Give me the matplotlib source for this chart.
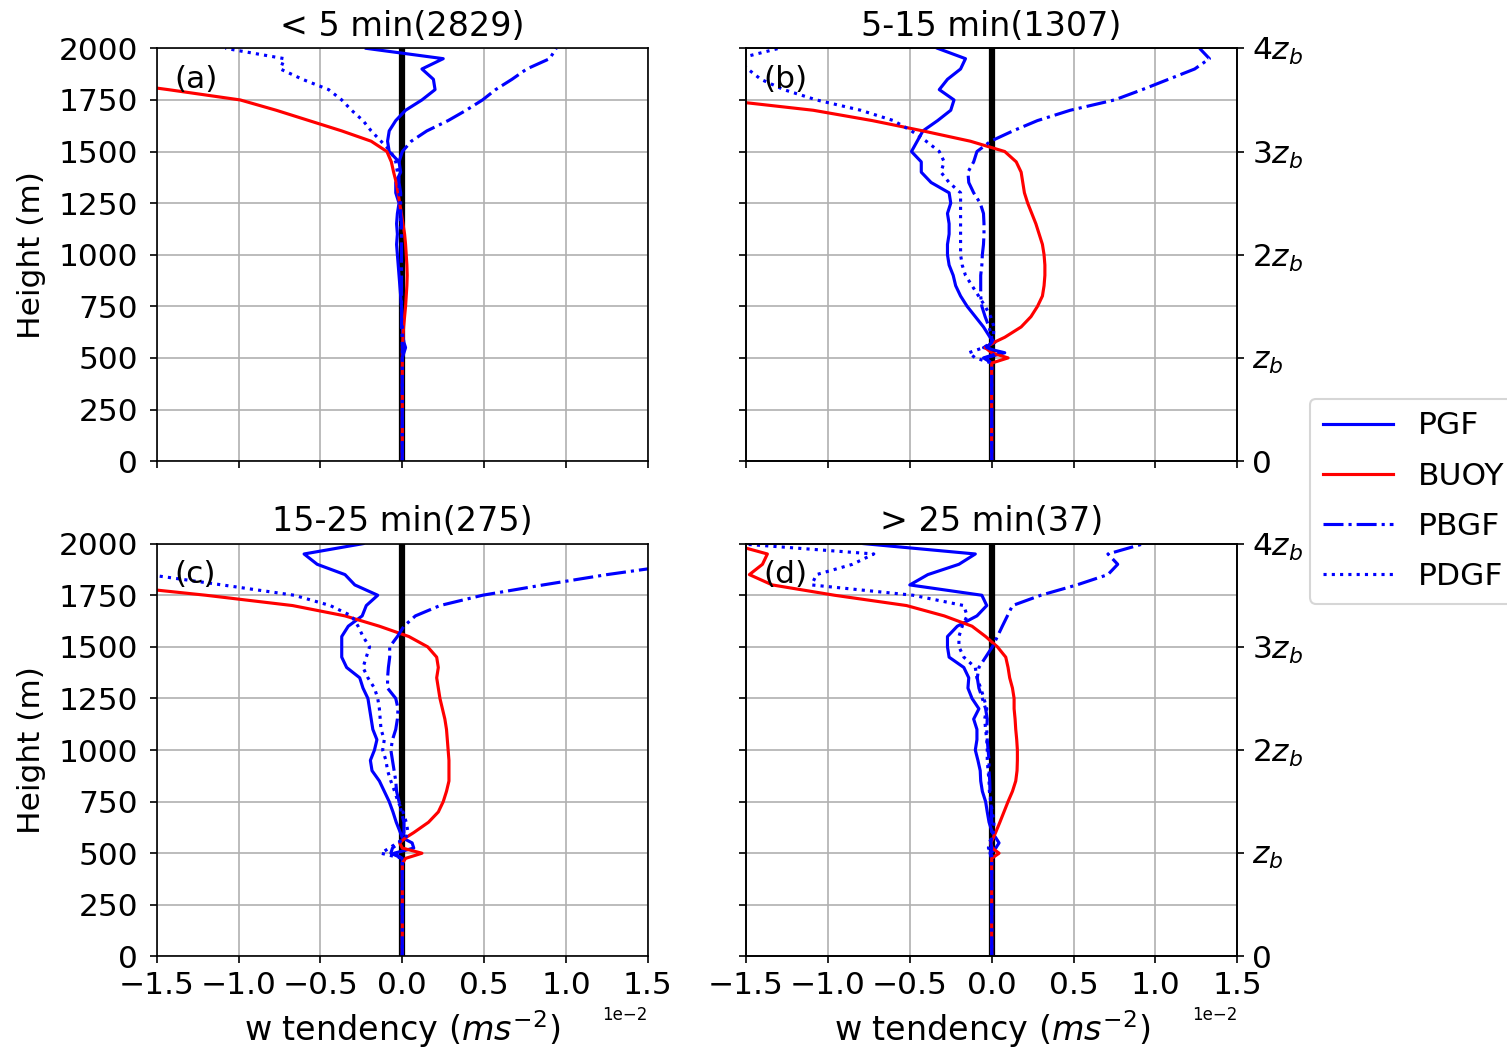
import numpy as np
import matplotlib
matplotlib.use("Agg")
import matplotlib.pyplot as plt

plt.rcParams['font.size'] = 15

# heights (m), values in units of 1e-2 m s^-2
height = [0, 450, 475, 500, 525, 550, 575, 600, 650, 700, 750, 800, 850, 900,
          950, 1000, 1050, 1100, 1150, 1200, 1250, 1300, 1350, 1400, 1450, 1500,
          1550, 1600, 1650, 1700, 1750, 1800, 1850, 1900, 1950, 2000]

titles = ["< 5 min(2829)", "5-15 min(1307)", "15-25 min(275)", "> 25 min(37)"]
tags = ["(a)", "(b)", "(c)", "(d)"]
names = ["PGF", "BUOY", "PBGF", "PDGF"]

pgf_a = [0, 0, 0, 0, 0.01, 0.02, 0.01, 0.005, 0, 0, -0.005, -0.01, -0.015, -0.02,
         -0.025, -0.03, -0.035, -0.03, -0.035, -0.03, -0.02, -0.04, -0.04, -0.01,
         -0.02, -0.08, -0.09, -0.08, -0.04, 0.02, 0.12, 0.2, 0.19, 0.12, 0.25, -0.22]
buoy_a = [0, 0, 0, 0, 0, 0, 0.002, 0.004, 0.008, 0.014, 0.02, 0.024, 0.028, 0.03,
          0.028, 0.024, 0.02, 0.014, 0.004, -0.006, -0.016, -0.026, -0.037, -0.053,
          -0.067, -0.094, -0.19, -0.37, -0.57, -0.77, -0.99, -1.43, -1.9, -2.4, -2.9, -3.4]
pbgf_a = [0, 0, 0, 0, 0.005, 0, 0, 0, -0.005, -0.005, -0.005, -0.005, -0.005, -0.005,
          -0.005, -0.005, -0.005, -0.005, -0.005, -0.01, -0.01, -0.01, -0.02, -0.02,
          -0.02, 0.0, 0.055, 0.15, 0.28, 0.39, 0.49, 0.57, 0.67, 0.76, 0.9, 0.94]
pdgf_a = [0, 0, 0, 0, 0, 0, 0, 0, 0, -0.005, -0.005, -0.005, -0.005, -0.005, -0.005,
          -0.005, -0.005, -0.005, -0.01, -0.01, -0.015, -0.02, -0.02, -0.03, -0.04,
          -0.07, -0.13, -0.19, -0.24, -0.31, -0.37, -0.45, -0.61, -0.745, -0.72, -1.08]

pgf_b = [0, 0, 0, -0.04, 0.08, -0.05, 0.02, -0.01, -0.05, -0.10, -0.15, -0.19, -0.22,
         -0.235, -0.26, -0.27, -0.27, -0.26, -0.26, -0.27, -0.25, -0.26, -0.37, -0.43,
         -0.43, -0.49, -0.455, -0.42, -0.33, -0.25, -0.23, -0.32, -0.27, -0.19, -0.16, -0.33]
buoy_b = [0, 0, 0, 0.1, 0.0, -0.04, 0.014, 0.08, 0.18, 0.24, 0.28, 0.31, 0.32, 0.325,
          0.325, 0.32, 0.31, 0.29, 0.27, 0.245, 0.22, 0.2, 0.19, 0.18, 0.15, 0.08,
          -0.13, -0.42, -0.73, -1.09, -1.65, -2.1, -2.6, -3.2, -4.0, -5.0]
pbgf_b = [0, 0, 0, -0.05, 0.05, -0.03, 0.0, 0.0, -0.016, -0.04, -0.06, -0.067, -0.067,
          -0.067, -0.06, -0.057, -0.05, -0.047, -0.047, -0.05, -0.07, -0.11, -0.14,
          -0.145, -0.11, -0.09, -0.006, 0.13, 0.28, 0.48, 0.75, 0.92, 1.08, 1.24, 1.33, 1.27]
pdgf_b = [0, 0, 0, -0.1, -0.14, -0.05, 0.0, 0.01, 0.014, -0.006, -0.04, -0.08, -0.12,
          -0.16, -0.18, -0.19, -0.19, -0.19, -0.19, -0.19, -0.19, -0.19, -0.26, -0.31,
          -0.29, -0.32, -0.40, -0.49, -0.60, -0.80, -1.07, -1.27, -1.41, -1.49, -1.55, -1.3]

pgf_c = [0, 0, 0, -0.05, 0.07, 0.06, 0.0, -0.012, -0.037, -0.057, -0.08, -0.11, -0.14,
         -0.185, -0.195, -0.17, -0.155, -0.18, -0.19, -0.2, -0.21, -0.24, -0.26, -0.34,
         -0.37, -0.37, -0.37, -0.33, -0.245, -0.22, -0.15, -0.29, -0.35, -0.52, -0.6, -0.24]
buoy_c = [0, 0, 0.02, 0.12, 0.0, -0.016, 0.02, 0.07, 0.16, 0.22, 0.25, 0.27, 0.285,
          0.285, 0.285, 0.28, 0.275, 0.27, 0.26, 0.245, 0.23, 0.22, 0.21, 0.22, 0.21,
          0.155, 0.04, -0.14, -0.35, -0.67, -1.2, -1.8, -2.3, -2.8, -3.4, -4.0]
pbgf_c = [0, 0, 0, -0.07, -0.06, -0.02, 0.0, 0.01, 0.01, -0.006, -0.02, -0.035, -0.04,
          -0.05, -0.06, -0.07, -0.06, -0.04, -0.03, -0.026, -0.04, -0.09, -0.09, -0.085,
          -0.077, -0.077, -0.03, 0.01, 0.08, 0.23, 0.49, 0.86, 1.25, 1.7, 2.0, 2.3]
pdgf_c = [0, 0, 0, -0.13, -0.08, -0.03, 0.02, 0.035, 0.024, 0.004, -0.026, -0.047, -0.07,
          -0.09, -0.1, -0.12, -0.11, -0.13, -0.135, -0.14, -0.15, -0.17, -0.21, -0.24,
          -0.22, -0.2, -0.24, -0.27, -0.31, -0.44, -0.66, -1.1, -1.55, -1.8, -2.0, -2.2]

pgf_d = [0, 0, 0, -0.006, 0.025, 0.045, 0.025, 0.004, -0.016, -0.027, -0.037, -0.057,
         -0.067, -0.07, -0.084, -0.1, -0.09, -0.09, -0.11, -0.078, -0.12, -0.145, -0.14,
         -0.17, -0.26, -0.27, -0.27, -0.21, -0.09, -0.03, -0.06, -0.5, -0.39, -0.2, -0.1, -0.78]
buoy_d = [0, 0, 0, 0.045, 0.004, -0.006, 0.01, 0.024, 0.05, 0.075, 0.1, 0.127, 0.147,
          0.155, 0.157, 0.157, 0.153, 0.147, 0.143, 0.137, 0.137, 0.127, 0.11, 0.1, 0.086,
          0.035, -0.037, -0.12, -0.29, -0.52, -0.96, -1.34, -1.48, -1.4, -1.37, -1.6]
pbgf_d = [0, 0, 0, -0.01, 0.0, -0.005, 0, 0, 0, -0.002, -0.005, -0.01, -0.012, -0.016,
          -0.016, -0.022, -0.027, -0.03, -0.027, -0.037, -0.057, -0.078, -0.088, -0.078,
          -0.037, 0.004, 0.035, 0.065, 0.096, 0.127, 0.3, 0.52, 0.71, 0.77, 0.71, 0.93]
pdgf_d = [0, 0, 0, 0.0, -0.02, -0.015, 0.0, 0.01, 0.014, 0.004, -0.006, -0.014, -0.016,
          -0.022, -0.027, -0.027, -0.03, -0.037, -0.043, -0.03, -0.047, -0.067, -0.09,
          -0.1, -0.17, -0.2, -0.2, -0.18, -0.15, -0.17, -0.48, -1.1, -1.07, -0.85, -0.72, -1.55]

zb_ticks = [0, 500, 1000, 1500, 2000]
zb_labels = ["0", "$z_b$", "$2z_b$", "$3z_b$", "$4z_b$"]


def make_panel(ax, title, tag, series):
    styles = [('b', '-'), ('r', '-'), ('b', '-.'), ('b', ':')]
    ax.axvline(0, color='k', lw=3)
    lines = []
    for vals, name, (col, ls) in zip(series, names, styles):
        ln, = ax.plot(np.array(vals) * 1e-2, height, color=col, ls=ls, lw=1.5, label=name)
        lines.append(ln)
    ax.set_xlim(-0.015, 0.015)
    ax.set_ylim(0, 2000)
    ax.set_xticks(np.array([-1.5, -1.0, -0.5, 0.0, 0.5, 1.0, 1.5]) * 1e-2)
    ax.set_yticks(np.arange(0, 2001, 250))
    ax.tick_params(axis='y', pad=5.5)
    ax.ticklabel_format(style='sci', axis='x', scilimits=(0, 0))
    ax.xaxis.get_offset_text().set_fontsize(8)
    ax.grid(True)
    ax.set_title(title, fontsize=16)
    ax.text(0.035, 0.925, tag, transform=ax.transAxes, va='center', ha='left', fontsize=15)
    return lines


fig, axes = plt.subplots(2, 2, sharex=True, sharey=True, figsize=(1507 / 150, 1051 / 150), dpi=150)
fig.subplots_adjust(left=0.104, right=0.821, bottom=0.09, top=0.954, wspace=0.2, hspace=0.2)

all_series = [(pgf_a, buoy_a, pbgf_a, pdgf_a),
              (pgf_b, buoy_b, pbgf_b, pdgf_b),
              (pgf_c, buoy_c, pbgf_c, pdgf_c),
              (pgf_d, buoy_d, pbgf_d, pdgf_d)]

handles = None
for i, ax in enumerate(axes.flat):
    lines = make_panel(ax, titles[i], tags[i], all_series[i])
    if handles is None:
        handles = lines
    if i % 2 == 0:
        ax.set_ylabel("Height (m)", labelpad=6)
    else:
        tw = ax.twinx()
        tw.set_ylim(0, 2000)
        tw.set_yticks(zb_ticks)
        tw.set_yticklabels(zb_labels)
    if i >= 2:
        ax.set_xlabel("w tendency ($ms^{-2}$)", fontsize=16)

fig.legend(handles=handles, loc='upper left', bbox_to_anchor=(0.8693, 0.6204),
           borderaxespad=0, fontsize=15, handlelength=2.24, labelspacing=0.68)

fig.savefig("out.png", dpi=150)
